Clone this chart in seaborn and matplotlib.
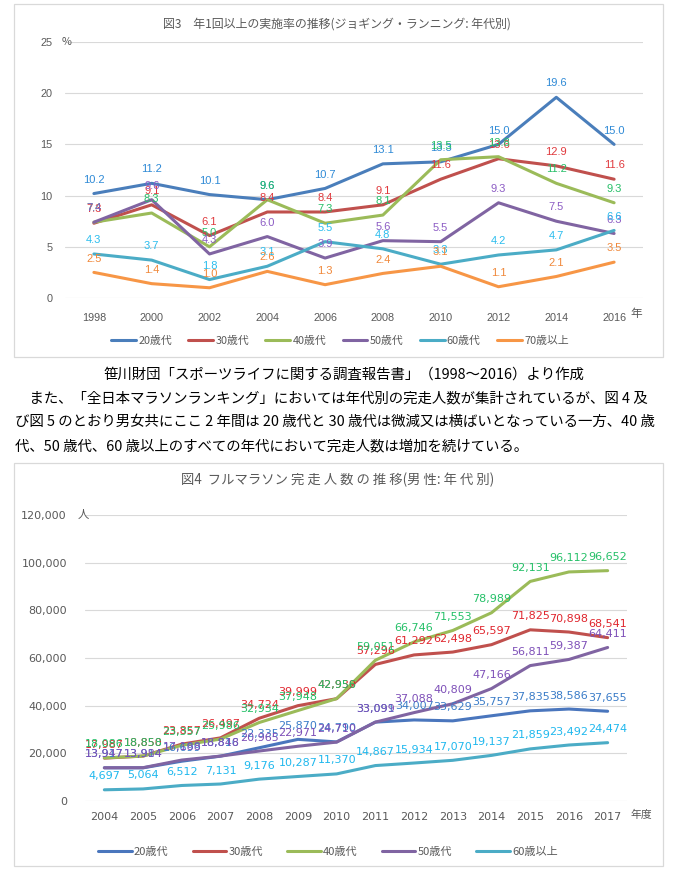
import pandas as pd
import seaborn as sns
import matplotlib.pyplot as plt
from matplotlib.patches import Rectangle

# ---- data: chart 1 (jogging / running rate, %) ----
years1 = [1998, 2000, 2002, 2004, 2006, 2008, 2010, 2012, 2014, 2016]
groups1 = ["20歳代", "30歳代", "40歳代", "50歳代", "60歳代", "70歳以上"]
rate_20s = [10.2, 11.2, 10.1, 9.6, 10.7, 13.1, 13.3, 15.0, 19.6, 15.0]
rate_30s = [7.3, 9.1, 6.1, 8.4, 8.4, 9.1, 11.6, 13.6, 12.9, 11.6]
rate_40s = [7.4, 8.3, 5.0, 9.6, 7.3, 8.1, 13.5, 13.8, 11.2, 9.3]
rate_50s = [7.4, 9.6, 4.3, 6.0, 3.9, 5.6, 5.5, 9.3, 7.5, 6.3]
rate_60s = [4.3, 3.7, 1.8, 3.1, 5.5, 4.8, 3.3, 4.2, 4.7, 6.6]
rate_70s = [2.5, 1.4, 1.0, 2.6, 1.3, 2.4, 3.1, 1.1, 2.1, 3.5]

# ---- data: chart 2 (full marathon finishers, men) ----
years2 = list(range(2004, 2018))
groups2 = ["20歳代", "30歳代", "40歳代", "50歳代", "60歳以上"]
fin_20s = [13917, 13914, 16699, 18816, 22335, 25870, 24790, 33091, 34007, 33629, 35757, 37835, 38586, 37655]
fin_30s = [17987, 18850, 23857, 26497, 34724, 39999, 42939, 57296, 61292, 62498, 65597, 71825, 70898, 68541]
fin_40s = [18086, 18858, 23357, 25986, 32934, 37948, 42956, 59051, 66746, 71553, 78989, 92131, 96112, 96652]
fin_50s = [13947, 13984, 17188, 18848, 20965, 22971, 24710, 33099, 37088, 40809, 47166, 56811, 59387, 64411]
fin_60s = [4697, 5064, 6512, 7131, 9176, 10287, 11370, 14867, 15934, 17070, 19137, 21859, 23492, 24474]

source_text = "笹川財団「スポーツライフに関する調査報告書」（1998〜2016）より作成"
body_lines = [
    "　また、「全日本マラソンランキング」においては年代別の完走人数が集計されているが、図 4 及",
    "び図 5 のとおり男女共にここ 2 年間は 20 歳代と 30 歳代は微減又は横ばいとなっている一方、40 歳",
    "代、50 歳代、60 歳以上のすべての年代において完走人数は増加を続けている。",
]

df1 = pd.DataFrame({"year": years1 * 6,
                    "rate": rate_20s + rate_30s + rate_40s + rate_50s + rate_60s + rate_70s,
                    "group": [g for g in groups1 for _ in years1]})
df2 = pd.DataFrame({"year": years2 * 5,
                    "count": fin_20s + fin_30s + fin_40s + fin_50s + fin_60s,
                    "group": [g for g in groups2 for _ in years2]})

line_col1 = ["#4a7ebb", "#c0504d", "#9bbb59", "#8064a2", "#4bacc6", "#f79646"]
lab_col1 = ["#2f8ad6", "#e03a3e", "#27bf68", "#8c5cc4", "#2bbdee", "#f0883a"]
line_col2 = ["#4a76bd", "#c0504d", "#9bbb59", "#8064a2", "#4bacc6"]
lab_col2 = ["#3a7cc8", "#e0262e", "#25c068", "#7e50b8", "#1fb8ee"]

sns.set_theme(style="white")
plt.rcParams["font.family"] = ["Noto Sans CJK JP", "DejaVu Sans"]

W, H = 678, 869
fig = plt.figure(figsize=(W / 100, H / 100), dpi=100)
fig.patch.set_facecolor("white")


def px_axes(l, t, r, b):
    return fig.add_axes([l / W, 1 - b / H, (r - l) / W, (b - t) / H])


def ftext(x, y, s, **kw):
    fig.text(x / W, 1 - y / H, s, **kw)


grey = "#595959"
grid = "#d9d9d9"
narrow = ["Liberation Sans", "DejaVu Sans"]

# frames
for l, t, r, b in [(14, 4, 663, 357), (14, 463, 663, 866)]:
    fig.add_artist(Rectangle((l / W, 1 - b / H), (r - l) / W, (b - t) / H,
                             transform=fig.transFigure, fill=False, ec=grid, lw=0.9))

# ---------------- chart 1 ----------------
ax1 = px_axes(65, 42, 643, 298)
sns.lineplot(data=df1, x="year", y="rate", hue="group", palette=line_col1,
             linewidth=2.2, ax=ax1)
ax1.set_xlim(1997, 2017)
ax1.set_ylim(0, 25)
ax1.set_yticks([0, 5, 10, 15, 20, 25])
ax1.set_xticks(years1)
ax1.set_xlabel("")
ax1.set_ylabel("")
ax1.grid(axis="y", color=grid, lw=0.8)
ax1.set_axisbelow(True)
for s in ax1.spines.values():
    s.set_visible(False)
ax1.tick_params(axis="both", length=0, labelcolor=grey, labelsize=7.8)
ax1.tick_params(axis="y", pad=9)
ax1.tick_params(axis="x", pad=11)
for t in ax1.get_xticklabels() + ax1.get_yticklabels():
    t.set_fontfamily(narrow)

for vals, c in zip([rate_20s, rate_30s, rate_40s, rate_50s, rate_60s, rate_70s], lab_col1):
    for x, v in zip(years1, vals):
        ax1.annotate(f"{v:.1f}", (x, v), xytext=(0, 10), textcoords="offset points",
                     ha="center", va="center", color=c, fontsize=8, family=narrow)

sns.move_legend(ax1, "center", bbox_to_anchor=((340 - 65) / 578, (298 - 341) / 256),
                ncol=6, frameon=False, title=None, fontsize=7.8,
                handlelength=2.3, handletextpad=0.2, columnspacing=1.5)
for t in ax1.get_legend().get_texts():
    t.set_color(grey)

ftext(337, 24, "図3　年1回以上の実施率の推移(ジョギング・ランニング: 年代別)",
      ha="center", va="center", color=grey, fontsize=8.6)
ftext(67, 42, "%", ha="center", va="center", color=grey, fontsize=7.8)
ftext(636, 313, "年", ha="center", va="center", color=grey, fontsize=8.4)

# ---------------- text ----------------
ftext(103, 375, source_text, ha="left", va="center", color="black", fontsize=10.4)
for i, line in enumerate(body_lines):
    ftext(15, 398 + i * 24, line, ha="left", va="center", color="black", fontsize=10.4)

# ---------------- chart 2 ----------------
ax2 = px_axes(85, 515, 627, 801)
sns.lineplot(data=df2, x="year", y="count", hue="group", palette=line_col2,
             linewidth=2.2, ax=ax2)
ax2.set_xlim(2003.5, 2017.5)
ax2.set_ylim(0, 120000)
ax2.set_yticks(range(0, 120001, 20000))
ax2.set_yticklabels([f"{v:,}" for v in range(0, 120001, 20000)])
ax2.set_xticks(years2)
ax2.set_xlabel("")
ax2.set_ylabel("")
ax2.grid(axis="y", color=grid, lw=0.8)
ax2.set_axisbelow(True)
for s in ax2.spines.values():
    s.set_visible(False)
ax2.tick_params(axis="both", length=0, labelcolor=grey, labelsize=8)
ax2.tick_params(axis="y", pad=13)
ax2.tick_params(axis="x", pad=8)
for t in ax2.get_xticklabels() + ax2.get_yticklabels():
    t.set_fontfamily(["DejaVu Sans"])

for vals, c in zip([fin_20s, fin_30s, fin_40s, fin_50s, fin_60s], lab_col2):
    for x, v in zip(years2, vals):
        ax2.annotate(f"{v:,}", (x, v), xytext=(0, 9.7), textcoords="offset points",
                     ha="center", va="center", color=c, fontsize=8,
                     family=["DejaVu Sans"])

sns.move_legend(ax2, "center", bbox_to_anchor=((328 - 85) / 542, (801 - 852) / 286),
                ncol=5, frameon=False, title=None, fontsize=8,
                handlelength=3.0, handletextpad=0.2, columnspacing=2.2)
for t in ax2.get_legend().get_texts():
    t.set_color(grey)

ftext(338, 480, "図4  フルマラソン 完 走 人 数 の 推 移(男 性: 年 代 別)",
      ha="center", va="center", color=grey, fontsize=9.6)
ftext(83, 515, "人", ha="center", va="center", color=grey, fontsize=8.2)
ftext(641, 815, "年度", ha="center", va="center", color=grey, fontsize=7.8)

fig.savefig("out.png", dpi=100)
